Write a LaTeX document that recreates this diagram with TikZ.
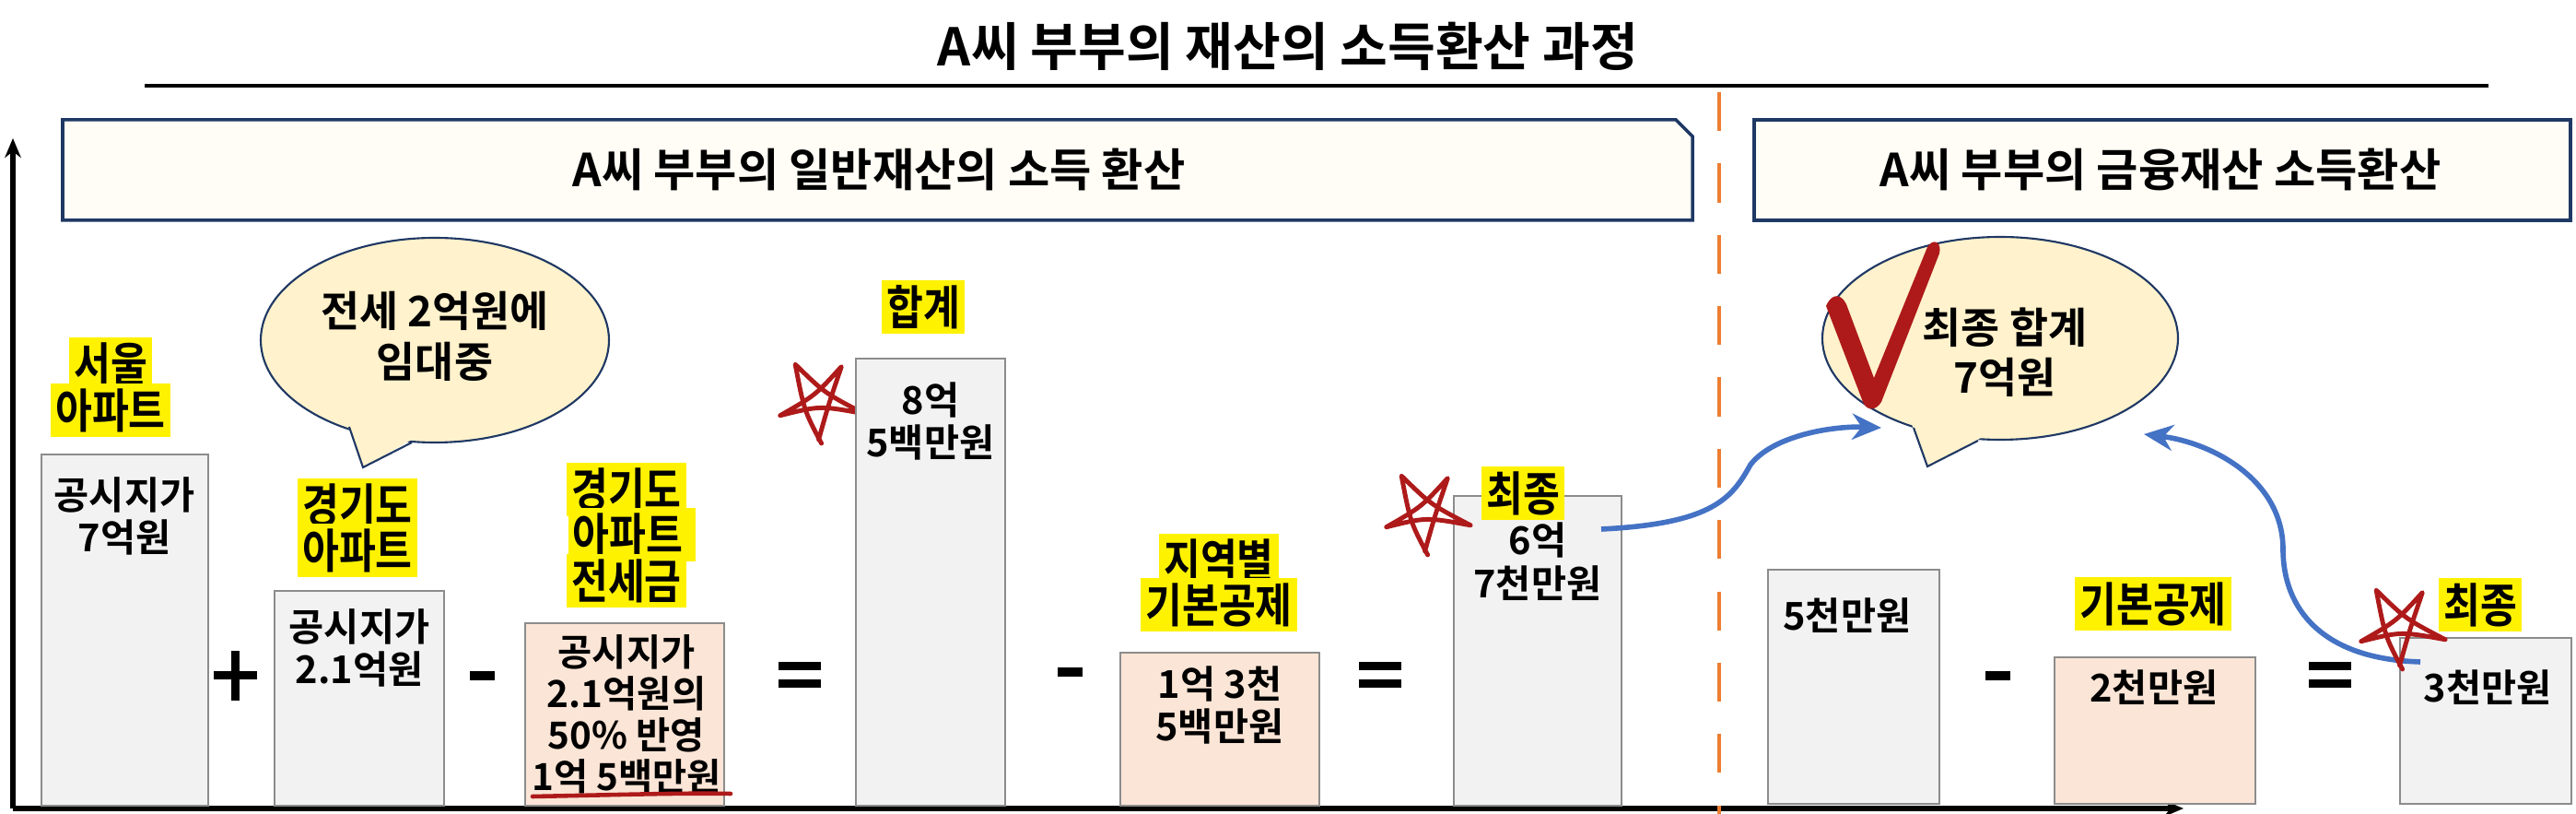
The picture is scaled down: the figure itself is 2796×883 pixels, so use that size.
\documentclass[tikz,border=0pt]{standalone}
\usepackage{fontspec}
\setmainfont{Noto Sans CJK KR}[BoldFont={Noto Sans CJK KR Bold}]
\newfontfamily\krc{Noto Sans CJK KR Bold}[FakeStretch=0.85]
\usetikzlibrary{arrows.meta}
\definecolor{gboxfill}{HTML}{F2F2F2}
\definecolor{gboxdraw}{HTML}{8C8C8C}
\definecolor{pfill}{HTML}{FBE5D6}
\definecolor{bubfill}{HTML}{FFF2CC}
\definecolor{navy}{HTML}{1F3864}
\definecolor{hdrfill}{HTML}{FFFDF5}
\definecolor{arrblue}{HTML}{4472C4}
\definecolor{dorange}{HTML}{ED7D31}
\definecolor{dred}{HTML}{AE1A1A}
\begin{document}
\begin{tikzpicture}[x=0.01cm,y=-0.01cm,
  gbox/.style={fill=gboxfill,draw=gboxdraw,line width=0.8pt},
  pbox/.style={fill=pfill,draw=gboxdraw,line width=0.8pt},
  btxt/.style={font=\bfseries\fontsize{11.8}{13.3}\selectfont,align=center,inner sep=0pt},
  hl/.style={fill=yellow,font=\krc\fontsize{14.5}{16}\selectfont,inner sep=1.5pt},
  hdr/.style={fill=hdrfill,draw=navy,line width=1pt},
  bub/.style={fill=bubfill,draw=navy,line width=0.6pt},
  op/.style={fill=black},
  barr/.style={draw=arrblue,line width=1.6pt,-{Stealth[length=9pt,width=8pt]}},
  hstar/.pic={\draw[dred,line width=1.4pt,line join=round,line cap=round]
     (88:46) .. controls (150:20) .. (236:48) .. controls (300:10) .. (16:50) .. controls (90:5) .. (160:46) .. controls (230:8) .. (302:44) .. controls (20:10) .. (92:42);}
]
\useasboundingbox (0,0) rectangle (2796,883);
% title
\node[font=\bfseries\fontsize{16}{20}\selectfont] (title) at (1398,50) {A씨 부부의 재산의 소득환산 과정};
\draw[line width=1.2pt] (157,93) -- (2701,93);
% axes
\draw[line width=1.5pt,-{Stealth[length=6pt,width=5pt]}] (14,877) -- (14,150);
\draw[line width=1.5pt,-{Stealth[length=6pt,width=5pt]}] (14,877) -- (2370,877);
% divider
\draw[dorange,line width=1.2pt,dash pattern=on 12pt off 10pt] (1866,100) -- (1866,883);
% headers
\draw[hdr] (68,130) -- (1819,130) -- (1837,148) -- (1837,239) -- (68,239) -- cycle;
\node[font=\bfseries\fontsize{14}{18}\selectfont] (h1) at (954,184) {A씨 부부의 일반재산의 소득 환산};
\draw[hdr] (1904,130) rectangle (2790,239);
\node[font=\bfseries\fontsize{14}{18}\selectfont] (h2) at (2345,184) {A씨 부부의 금융재산 소득환산};
% Seoul
\draw[gbox] (45,493) rectangle (226,874);
\node[btxt] (t1) at (135,560) {공시지가\\7억원};
\node[hl] (l1a) at (120,395) {서울};
\node[hl] (l1b) at (120,445) {아파트};
% plus
\fill[op] (232,728) rectangle (279,737);
\fill[op] (251,706) rectangle (260,760);
% Gyeonggi
\draw[gbox] (298,641) rectangle (482,874);
\node[btxt] (t2) at (390,703) {공시지가\\2.1억원};
\node[hl] (l2a) at (388,548) {경기도};
\node[hl] (l2b) at (388,597) {아파트};
% bubble left
\draw[bub] (472,369) ellipse [x radius=189,y radius=111];
\fill[bubfill] (375,455) -- (394,507) -- (452,474) -- (420,440) -- cycle;
\draw[navy,line width=0.6pt] (379,463) -- (394,507) -- (447,480);
\node[btxt,font=\bfseries\fontsize{13}{15.5}\selectfont] (bt1) at (472,365) {전세 2억원에\\임대중};
% minus
\fill[op] (510,728) rectangle (537,738);
% jeonse
\draw[pbox] (570,676) rectangle (786,874);
\node[btxt,font=\bfseries\fontsize{11.5}{12.8}\selectfont] (t3) at (680,775) {공시지가\\2.1억원의\\50\% 반영\\1억 5백만원};
\draw[dred,line width=1.3pt,line cap=round] (578,864) .. controls (680,862) and (740,860) .. (793,861);
\node[hl] (l3a) at (680,531) {경기도};
\node[hl] (l3b) at (686,580) {아파트\,};
\node[hl] (l3c) at (680,630) {전세금};
% equals
\fill[op] (845,718) rectangle (891,727);
\fill[op] (845,737) rectangle (891,746);
% sum
\pic at (890,435) {hstar};
\draw[gbox] (929,389) rectangle (1091,874);
\node[btxt] (t4) at (1010,457) {8억\\5백만원};
\node[hl] (l4) at (1002,333) {합계};
% minus
\fill[op] (1148,724) rectangle (1175,734);
% deduction
\draw[pbox] (1216,708) rectangle (1432,874);
\node[btxt] (t5) at (1324,765) {1억 3천\\5백만원};
\node[hl] (l5a) at (1323,608) {지역별};
\node[hl] (l5b) at (1323,656) {기본공제};
% equals
\fill[op] (1475,718) rectangle (1521,727);
\fill[op] (1475,737) rectangle (1521,746);
% final
\draw[gbox] (1578,538) rectangle (1760,874);
\node[btxt] (t6) at (1669,609) {6억\\7천만원};
\node[hl] (l6) at (1653,535) {최종};
\pic at (1548,556) {hstar};
\coordinate (a1s) at (1738,574);
% bubble right
\draw[bub] (2171,367) ellipse [x radius=193,y radius=110];
\fill[bubfill] (2072,452) -- (2092,506) -- (2152,474) -- (2120,440) -- cycle;
\draw[navy,line width=0.6pt] (2077,464) -- (2092,506) -- (2147,478);
\fill[dred] (1982,332) .. controls (1988,318) and (1998,318) .. (2004,330) -- (2034,410)
   -- (2092,268) .. controls (2098,258) and (2108,262) .. (2105,275) -- (2042,436)
   .. controls (2036,446) and (2026,446) .. (2022,436) -- cycle;
\node[btxt,font=\bfseries\fontsize{13}{15.5}\selectfont] (bt2) at (2176,382) {최종 합계\\7억원};
\coordinate (a1e) at (2042,464);
\coordinate (a2e) at (2327,471);
\draw[barr] (a1s) .. controls (1860,568) and (1880,540) .. (1900,504) .. controls (1925,472) and (1990,462) .. (a1e);
% right boxes
\draw[gbox] (1919,618) rectangle (2105,872);
\node[btxt] (t7) at (2005,668) {5천만원};
\fill[op] (2155,728) rectangle (2182,738);
\draw[pbox] (2230,713) rectangle (2448,872);
\node[btxt] (t8) at (2338,746) {2천만원};
\node[hl] (l8) at (2337,655) {기본공제};
\fill[op] (2506,718) rectangle (2552,727);
\fill[op] (2506,737) rectangle (2552,746);
\draw[gbox] (2605,692) rectangle (2791,872);
\node[btxt] (t9) at (2700,746) {3천만원};
\node[hl] (l9) at (2692,656) {최종};
\coordinate (a2s) at (2627,718);
\draw[barr] (a2s) .. controls (2520,715) and (2478,660) .. (2478,596) .. controls (2478,520) and (2400,480) .. (a2e);
\pic at (2606,680) {hstar};
\end{tikzpicture}
\end{document}
